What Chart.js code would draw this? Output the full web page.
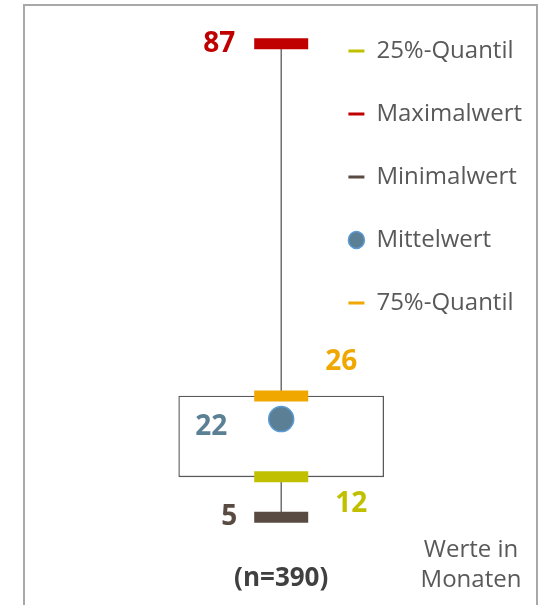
<!DOCTYPE html>
<html lang="de">
<head>
<meta charset="utf-8">
<script src="https://cdn.jsdelivr.net/npm/chart.js@4/dist/chart.umd.min.js"></script>
<style>
  html, body { margin: 0; padding: 0; background: #fff; }
  #wrap { position: relative; width: 540px; height: 605px; overflow: hidden; }
  #frame { position: absolute; left: 23px; top: 4px; width: 511px; height: 650px; border: 2px solid #a8a8a8; pointer-events: none; }
  #unit { position: absolute; left: 411px; width: 120px; top: 533px; font: 24px 'Open Sans', sans-serif; line-height: 30px; color: #595959; text-align: center; }
</style>
</head>
<body>
<div id="wrap">
  <canvas id="boxChart" width="540" height="605"></canvas>
  <div id="frame"></div>
  <div id="unit">Werte in<br>Monaten</div>
</div>
<script>
// Daten
const categories = ['(n=390)'];
const seriesNames = ['25%-Quantil', 'Maximalwert', 'Minimalwert', 'Mittelwert', '75%-Quantil'];
const q25 = [12];
const maxVal = [87];
const minVal = [5];
const meanVal = [22];
const q75 = [26];

const colors = ['#c0c000', '#c00000', '#594a42', '#5b7f95', '#f0a800'];
// Versatz der Wertbeschriftung je Reihe (px)
const labelOffsets = [[70, 27], [-62, 0], [-52, 0], [-70, 8], [60, -34]];

function points(values) {
    return values.map((v, i) => ({ x: categories[i], y: v }));
}

function markerSet(label, values, color, order) {
    return {
        type: 'scatter',
        label: label,
        order: order,
        data: points(values),
        pointStyle: 'line',
        pointRadius: 27,
        pointHoverRadius: 27,
        pointBorderWidth: 11,
        pointBorderColor: color,
        borderColor: color,
        backgroundColor: color,
        clip: false
    };
}

const datasets = [
    markerSet(seriesNames[0], q25, colors[0], 1),
    markerSet(seriesNames[1], maxVal, colors[1], 2),
    markerSet(seriesNames[2], minVal, colors[2], 3),
    {
        type: 'scatter',
        label: seriesNames[3],
        order: 4,
        data: points(meanVal),
        pointStyle: 'circle',
        pointRadius: 12.5,
        pointHoverRadius: 12.5,
        pointBackgroundColor: colors[3],
        pointBorderColor: '#5b9bd5',
        pointBorderWidth: 1.5,
        backgroundColor: colors[3],
        borderColor: '#5b9bd5',
        clip: false
    },
    markerSet(seriesNames[4], q75, colors[4], 5),
    {
        type: 'bar',
        label: 'box',
        order: 10,
        data: categories.map((c, i) => [q25[i], q75[i]]),
        backgroundColor: '#ffffff',
        borderColor: '#595959',
        borderWidth: 1.3,
        borderSkipped: false,
        barThickness: 205,
        clip: false
    },
    {
        type: 'line',
        label: 'whisker',
        order: 11,
        data: categories.flatMap((c, i) => [{ x: c, y: minVal[i] }, { x: c, y: maxVal[i] }]),
        borderColor: '#595959',
        borderWidth: 1.3,
        pointRadius: 0,
        clip: false
    }
];

// Wertbeschriftungen neben den Markern
const valueLabels = {
    id: 'valueLabels',
    afterDatasetsDraw(chart) {
        const ctx = chart.ctx;
        ctx.save();
        ctx.font = 'bold 28px "Open Sans", sans-serif';
        ctx.textAlign = 'center';
        ctx.textBaseline = 'middle';
        seriesNames.forEach((name, di) => {
            const meta = chart.getDatasetMeta(di);
            const ds = chart.data.datasets[di];
            meta.data.forEach((pt, i) => {
                ctx.fillStyle = colors[di];
                ctx.fillText(ds.data[i].y, pt.x + labelOffsets[di][0], pt.y + labelOffsets[di][1]);
            });
        });
        ctx.restore();
    }
};

new Chart(document.getElementById('boxChart'), {
    type: 'bar',
    data: { labels: categories, datasets: datasets },
    options: {
        responsive: false,
        animation: false,
        layout: { padding: { left: 253, right: 8, top: 0, bottom: 0 } },
        plugins: {
            tooltip: { enabled: false },
            legend: {
                position: 'right',
                align: 'start',
                maxWidth: 240,
                labels: {
                    usePointStyle: true,
                    pointStyleWidth: 16,
                    boxHeight: 12,
                    padding: 39,
                    color: '#595959',
                    font: { family: 'Open Sans', size: 24 },
                    generateLabels(chart) {
                        const items = Chart.defaults.plugins.legend.labels.generateLabels(chart);
                        return items
                            .filter(it => it.datasetIndex < seriesNames.length)
                            .map(it => {
                                const ds = chart.data.datasets[it.datasetIndex];
                                it.lineWidth = ds.pointStyle === 'circle' ? 1.5 : 3;
                                return it;
                            });
                    }
                }
            }
        },
        scales: {
            x: {
                type: 'category',
                labels: categories,
                offset: true,
                grid: { display: false },
                border: { display: false },
                ticks: {
                    padding: 11,
                    color: '#404040',
                    font: { family: 'Open Sans', size: 26, weight: 'bold' }
                }
            },
            y: { display: false, min: 0.4, max: 88 }
        }
    },
    plugins: [valueLabels]
});
</script>
</body>
</html>
